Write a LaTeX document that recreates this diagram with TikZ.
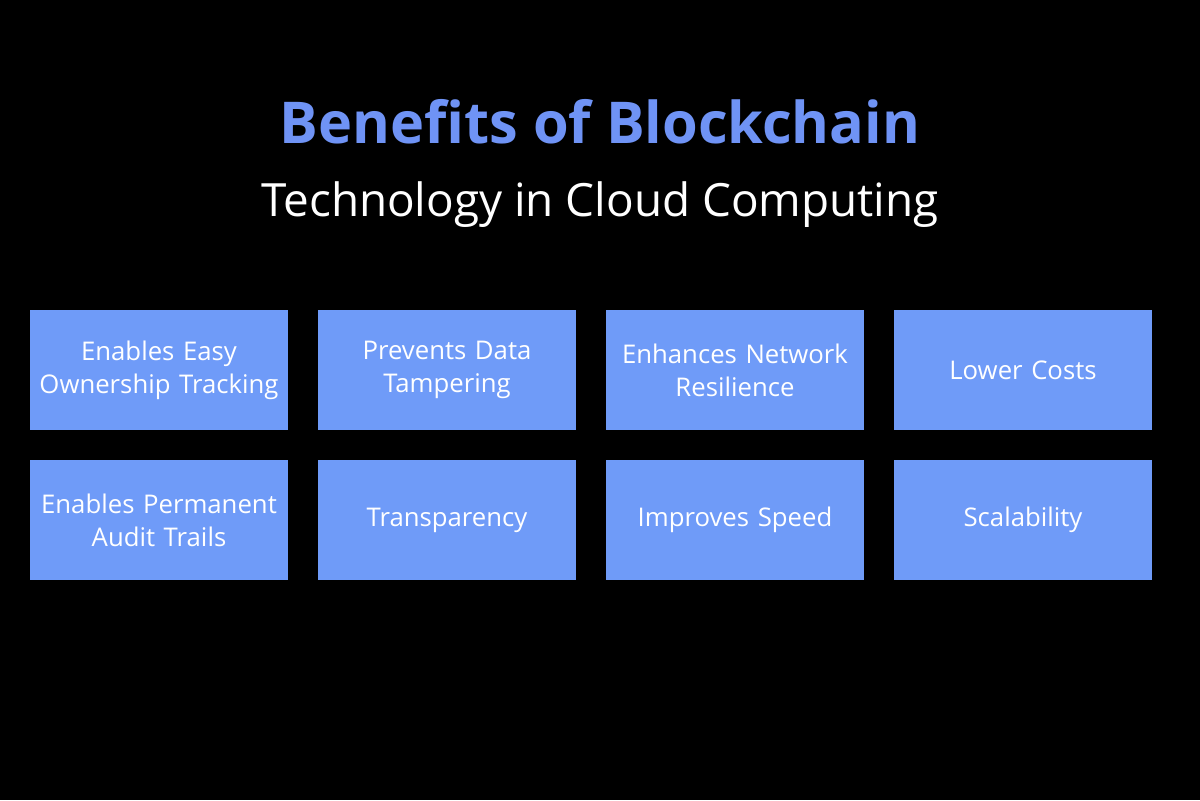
\documentclass[tikz,border=0pt]{standalone}
\usepackage{fontspec}
\setmainfont{Open Sans}
\usepackage{tikz}
\usetikzlibrary{positioning}
\definecolor{boxblue}{HTML}{6F9BF8}
\definecolor{titleblue}{HTML}{6F93F5}

\begin{document}
\begin{tikzpicture}

	\tikzstyle benefit=[fill=boxblue, draw=none, minimum width=6.45cm, minimum height=3cm, text width=6.3cm, align=center, text=white, font=\fontsize{18.3}{23.5}\selectfont, inner sep=0pt];

	\fill[black] (0,0) rectangle (30,20);
	\useasboundingbox (0,0) rectangle (30,20);

	\node[text=titleblue, font=\fontsize{41}{48}\selectfont\bfseries] (title) at (15,16.95) {Benefits of Blockchain};
	\node[text=white, font=\fontsize{32.6}{38}\selectfont] (subtitle) at (15,14.875) {Technology in Cloud Computing};

	
	\node[benefit] (ownership) at (3.975,10.75) {Enables Easy\\Ownership Tracking};
	\node[benefit] (tampering) at (11.175,10.75) {Prevents Data\\Tampering};
	\node[benefit] (resilience) at (18.375,10.75) {Enhances Network\\Resilience};
	\node[benefit] (costs) at (25.575,10.75) {Lower Costs};

	\node[benefit] (audit) at (3.975,7) {Enables Permanent\\Audit Trails};
	\node[benefit] (transparency) at (11.175,7) {Transparency};
	\node[benefit] (speed) at (18.375,7) {Improves Speed};
	\node[benefit] (scalability) at (25.575,7) {Scalability};

\end{tikzpicture}
\end{document}
